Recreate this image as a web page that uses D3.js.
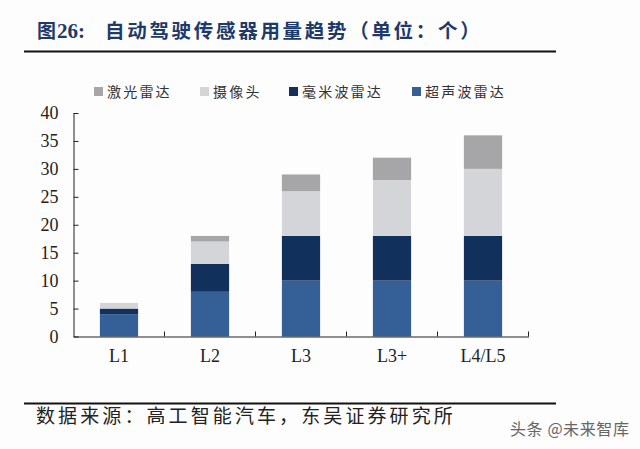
<!DOCTYPE html>
<html>
<head>
<meta charset="utf-8">
<script src="https://d3js.org/d3.v7.min.js"></script>
<style>
  html, body { margin: 0; padding: 0; background: #fdfdfd; }
  svg { display: block; }
</style>
</head>
<body>
<div id="chart"></div>
<script>
// Chart data
var categories = ["L1", "L2", "L3", "L3+", "L4/L5"];
var ultrasonic = [4, 8, 10, 10, 10];
var mmwave = [1, 5, 8, 8, 8];
var camera = [1, 4, 8, 10, 12];
var lidar = [0, 1, 3, 4, 6];
var y_ticks = [0, 5, 10, 15, 20, 25, 30, 35, 40];
var series_keys = ["超声波雷达", "毫米波雷达", "摄像头", "激光雷达"];
var series_values = [ultrasonic, mmwave, camera, lidar];

var series_colors = ["#355f97", "#12305c", "#d4d5d8", "#a6a6a8"];
var cjk_font = "'Noto Sans CJK SC', sans-serif";
var latin_font = "'Liberation Serif', serif";

var svg = d3.select("#chart").append("svg")
    .attr("width", 640)
    .attr("height", 449);

// Scales
var x = d3.scaleBand().domain(categories).range([73.5, 528.5]).paddingInner(0.58).paddingOuter(0.29);
var y = d3.scaleLinear().domain([0, 40]).range([336.5, 113]);

// Stack table built from the named arrays
var table = categories.map(function (c, i) {
    var row = { category: c };
    series_keys.forEach(function (k, j) { row[k] = series_values[j][i]; });
    return row;
});
var stacked = d3.stack().keys(series_keys)(table);

// Bars
svg.append("g").selectAll("g")
    .data(stacked)
    .join("g")
    .attr("fill", function (d, i) { return series_colors[i]; })
    .selectAll("rect")
    .data(function (d) { return d; })
    .join("rect")
    .attr("x", function (d) { return x(d.data.category); })
    .attr("width", x.bandwidth())
    .attr("y", function (d) { return y(d[1]); })
    .attr("height", function (d) { return y(d[0]) - y(d[1]); });

// Y axis
var y_axis = svg.append("g")
    .attr("transform", "translate(73.5,0)")
    .call(d3.axisLeft(y).tickValues(y_ticks).tickSize(-5).tickPadding(15).tickSizeOuter(0));
y_axis.selectAll("text")
    .attr("font-family", latin_font)
    .attr("font-size", 18)
    .attr("fill", "#222");

// X axis
var x_axis = svg.append("g")
    .attr("transform", "translate(0,336.5)")
    .call(d3.axisBottom(x).tickSize(0).tickPadding(13).tickSizeOuter(0));
x_axis.selectAll("text")
    .attr("font-family", latin_font)
    .attr("font-size", 18)
    .attr("fill", "#222");

// Category boundary ticks point upward from the axis
x_axis.selectAll(".boundary")
    .data(categories)
    .join("line")
    .attr("class", "boundary")
    .attr("x1", function (d) { return x(d) + x.bandwidth() + x.step() * 0.29; })
    .attr("x2", function (d) { return x(d) + x.bandwidth() + x.step() * 0.29; })
    .attr("y1", 0)
    .attr("y2", -5)
    .attr("stroke", "#222");

svg.selectAll(".domain, .tick line").attr("stroke", "#222");

// Title and rules
svg.append("text").attr("x", 37).attr("y", 38)
    .attr("font-family", cjk_font).attr("font-size", 19).attr("font-weight", 700)
    .attr("fill", "#1d3a68").text("图");
svg.append("text").attr("x", 57).attr("y", 38)
    .attr("font-family", latin_font).attr("font-size", 21).attr("font-weight", 700)
    .attr("fill", "#1d3a68").text("26:");
svg.append("text").attr("x", 105).attr("y", 38)
    .attr("font-family", cjk_font).attr("font-size", 19.5).attr("font-weight", 700)
    .attr("letter-spacing", 2.7)
    .attr("fill", "#1d3a68").text("自动驾驶传感器用量趋势（单位：个）");

svg.append("line").attr("x1", 24).attr("x2", 556).attr("y1", 51.5).attr("y2", 51.5)
    .attr("stroke", "#111").attr("stroke-width", 2);
svg.append("line").attr("x1", 24).attr("x2", 556).attr("y1", 403.5).attr("y2", 403.5)
    .attr("stroke", "#111").attr("stroke-width", 2);

// Legend
var legend_names = ["激光雷达", "摄像头", "毫米波雷达", "超声波雷达"];
var legend_colors = ["#a6a6a8", "#d4d5d8", "#12305c", "#355f97"];
var legend_x = [94, 200, 289, 412];
var legend = svg.append("g").selectAll("g")
    .data(legend_names)
    .join("g")
    .attr("transform", function (d, i) { return "translate(" + legend_x[i] + ",87)"; });
legend.append("rect")
    .attr("width", 9).attr("height", 9)
    .attr("fill", function (d, i) { return legend_colors[i]; });
legend.append("text")
    .attr("x", 13).attr("y", 10)
    .attr("font-family", cjk_font).attr("font-size", 14)
    .attr("letter-spacing", 2.2).attr("fill", "#333")
    .text(function (d) { return d; });

// Source line and watermark
svg.append("text").attr("x", 36).attr("y", 423)
    .attr("font-family", cjk_font).attr("font-size", 19)
    .attr("letter-spacing", 3.1).attr("fill", "#222")
    .text("数据来源：高工智能汽车，东吴证券研究所");
svg.append("text").attr("x", 510).attr("y", 435)
    .attr("font-family", cjk_font).attr("font-size", 16)
    .attr("letter-spacing", 0.6).attr("fill", "#666")
    .text("头条 @未来智库");
</script>
</body>
</html>
